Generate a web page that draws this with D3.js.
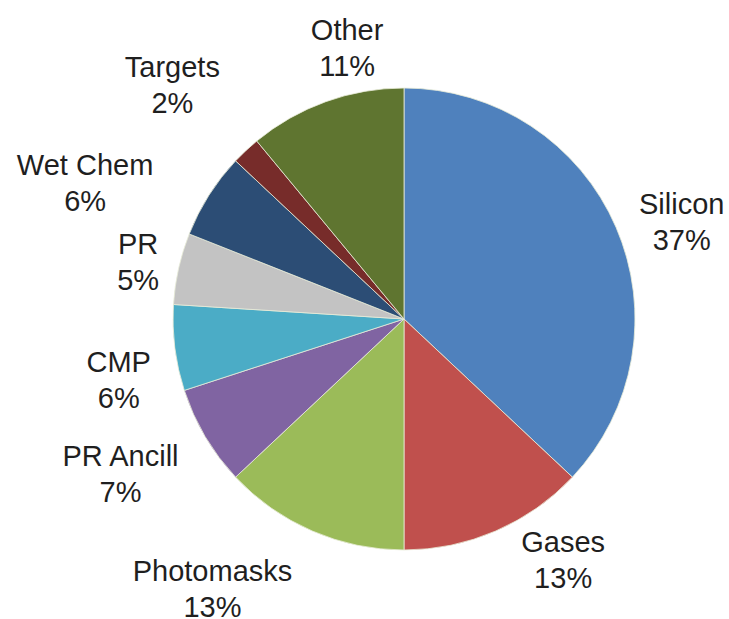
<!DOCTYPE html>
<html>
<head>
<meta charset="utf-8">
<script src="https://cdn.jsdelivr.net/npm/d3@7"></script>
<style>
  body { margin: 0; background: #fff; }
  svg { display: block; }
</style>
</head>
<body>
<svg id="chart"></svg>
<script>
/// data ///
const categories = ["Silicon", "Gases", "Photomasks", "PR Ancill", "CMP", "PR", "Wet Chem", "Targets", "Other"];
const shares = [37, 13, 13, 7, 6, 5, 6, 2, 11];

/// colours ///
const sliceColours = ["#4f81bd", "#c0504d", "#9bbb59", "#8064a2", "#4bacc6", "#c3c3c3", "#2c4d75", "#772c2a", "#5f7530"];

/// layout ///
const width = 729;
const height = 619;
const cx = 404;
const cy = 319;
const radius = 231;
// label placement, relative to slice middle: [angle shift in degrees, distance from centre]
const labelPlacement = [[6, 291], [-9, 297], [11, 339], [0.4, 328], [-6.8, 294], [-2.6, 270], [-10.8, 343], [-2.8, 322], [7.5, 267]];

const data = categories.map((c, i) => ({ name: c, value: shares[i] }));

const svg = d3.select("#chart").attr("width", width).attr("height", height);

const pie = d3.pie().value(d => d.value).sort(null);
const arc = d3.arc().innerRadius(0).outerRadius(radius);
const colour = d3.scaleOrdinal().domain(categories).range(sliceColours);

const g = svg.append("g").attr("transform", `translate(${cx},${cy})`);
const arcs = pie(data);

// slices, clockwise from 12 o'clock
g.selectAll(".slice")
  .data(arcs)
  .join("path")
    .attr("class", "slice")
    .attr("d", arc)
    .attr("fill", d => colour(d.data.name))
    .attr("stroke", "#e8ecd8")
    .attr("stroke-width", 0.8);

// labels: name on top, percentage below
const labels = g.selectAll(".label")
  .data(arcs)
  .join("text")
    .attr("class", "label")
    .attr("text-anchor", "middle")
    .attr("font-family", "'Liberation Sans', Arial, sans-serif")
    .attr("font-size", 29)
    .attr("fill", "#1f1f1f")
    .attr("transform", (d, i) => {
      const a = (d.startAngle + d.endAngle) / 2 + labelPlacement[i][0] * Math.PI / 180;
      const r = labelPlacement[i][1];
      return `translate(${r * Math.sin(a)},${-r * Math.cos(a)})`;
    });

labels.append("tspan").attr("x", 0).attr("y", -18).text(d => d.data.name);
labels.append("tspan").attr("x", 0).attr("y", 18).text(d => d.data.value + "%");
</script>
</body>
</html>
